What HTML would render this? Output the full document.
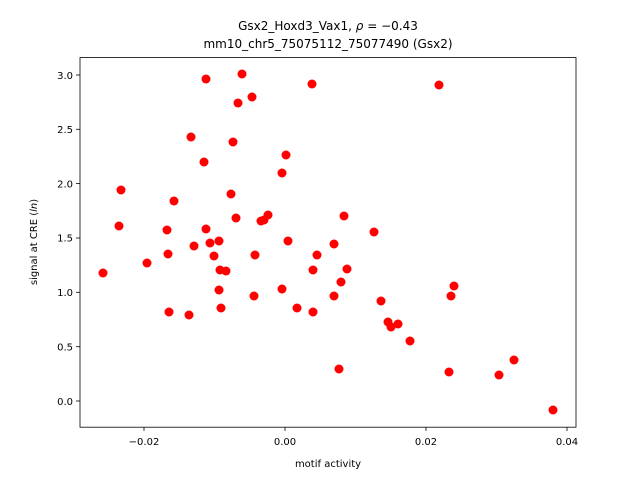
<!DOCTYPE html>
<html><head><meta charset="utf-8"><style>body{margin:0;background:#fff}</style></head><body>
<svg width="640" height="480" xmlns="http://www.w3.org/2000/svg" font-family="'DejaVu Sans', sans-serif">
<rect width="640" height="480" fill="#fff"/>
<g fill="#ff0000">
<circle cx="103" cy="273" r="4.5"/><circle cx="119" cy="226" r="4.5"/><circle cx="121" cy="190" r="4.5"/><circle cx="147" cy="263" r="4.5"/><circle cx="167" cy="230" r="4.5"/><circle cx="168" cy="254" r="4.5"/><circle cx="169" cy="312" r="4.5"/><circle cx="174" cy="201" r="4.5"/><circle cx="189" cy="315" r="4.5"/><circle cx="191" cy="137" r="4.5"/><circle cx="194" cy="246" r="4.5"/><circle cx="204" cy="162" r="4.5"/><circle cx="206" cy="79" r="4.5"/><circle cx="206" cy="229" r="4.5"/><circle cx="210" cy="243" r="4.5"/><circle cx="214" cy="256" r="4.5"/><circle cx="219" cy="241" r="4.5"/><circle cx="219" cy="290" r="4.5"/><circle cx="220" cy="270" r="4.5"/><circle cx="221" cy="308" r="4.5"/><circle cx="226" cy="271" r="4.5"/><circle cx="231" cy="194" r="4.5"/><circle cx="233" cy="142" r="4.5"/><circle cx="236" cy="218" r="4.5"/><circle cx="238" cy="103" r="4.5"/><circle cx="242" cy="74" r="4.5"/><circle cx="252" cy="97" r="4.5"/><circle cx="255" cy="255" r="4.5"/><circle cx="254" cy="296" r="4.5"/><circle cx="261" cy="221" r="4.5"/><circle cx="264" cy="220" r="4.5"/><circle cx="268" cy="215" r="4.5"/><circle cx="282" cy="173" r="4.5"/><circle cx="282" cy="289" r="4.5"/><circle cx="286" cy="155" r="4.5"/><circle cx="288" cy="241" r="4.5"/><circle cx="297" cy="308" r="4.5"/><circle cx="312" cy="84" r="4.5"/><circle cx="313" cy="270" r="4.5"/><circle cx="313" cy="312" r="4.5"/><circle cx="317" cy="255" r="4.5"/><circle cx="334" cy="244" r="4.5"/><circle cx="334" cy="296" r="4.5"/><circle cx="341" cy="282" r="4.5"/><circle cx="344" cy="216" r="4.5"/><circle cx="347" cy="269" r="4.5"/><circle cx="339" cy="369" r="4.5"/><circle cx="374" cy="232" r="4.5"/><circle cx="381" cy="301" r="4.5"/><circle cx="388" cy="322" r="4.5"/><circle cx="391" cy="327" r="4.5"/><circle cx="398" cy="324" r="4.5"/><circle cx="410" cy="341" r="4.5"/><circle cx="439" cy="85" r="4.5"/><circle cx="449" cy="372" r="4.5"/><circle cx="451" cy="296" r="4.5"/><circle cx="454" cy="286" r="4.5"/><circle cx="499" cy="375" r="4.5"/><circle cx="514" cy="360" r="4.5"/><circle cx="553" cy="410" r="4.5"/>
</g>
<rect x="80" y="57.6" width="496" height="369.6" fill="none" stroke="#000" stroke-width="0.8"/>
<g stroke="#000" stroke-width="0.8">
<line x1="144" y1="427" x2="144" y2="431"/><line x1="285" y1="427" x2="285" y2="431"/><line x1="426" y1="427" x2="426" y2="431"/><line x1="567" y1="427" x2="567" y2="431"/>
<line x1="76" y1="401" x2="80" y2="401"/><line x1="76" y1="346.7" x2="80" y2="346.7"/><line x1="76" y1="292.3" x2="80" y2="292.3"/><line x1="76" y1="238" x2="80" y2="238"/><line x1="76" y1="183.6" x2="80" y2="183.6"/><line x1="76" y1="129.3" x2="80" y2="129.3"/><line x1="76" y1="75" x2="80" y2="75"/>
</g>
<g font-size="10" text-anchor="middle">
<text x="144" y="445">−0.02</text><text x="285" y="445">0.00</text><text x="426" y="445">0.02</text><text x="567" y="445">0.04</text>
</g>
<g font-size="10" text-anchor="end">
<text x="73" y="405">0.0</text><text x="73" y="350.5">0.5</text><text x="73" y="296">1.0</text><text x="73" y="241.5">1.5</text><text x="73" y="187.5">2.0</text><text x="73" y="133">2.5</text><text x="73" y="79">3.0</text>
</g>
<text x="328" y="467" font-size="10" text-anchor="middle">motif activity</text>
<text transform="translate(37,242) rotate(-90)" font-size="10" text-anchor="middle">signal at CRE (<tspan font-style="italic">ln</tspan>)</text>
<text x="328" y="30" font-size="12" text-anchor="middle">Gsx2_Hoxd3_Vax1, <tspan font-style="italic">ρ</tspan> = −0.43</text>
<text x="328" y="48" font-size="12" text-anchor="middle">mm10_chr5_75075112_75077490 (Gsx2)</text>
</svg>
</body></html>
